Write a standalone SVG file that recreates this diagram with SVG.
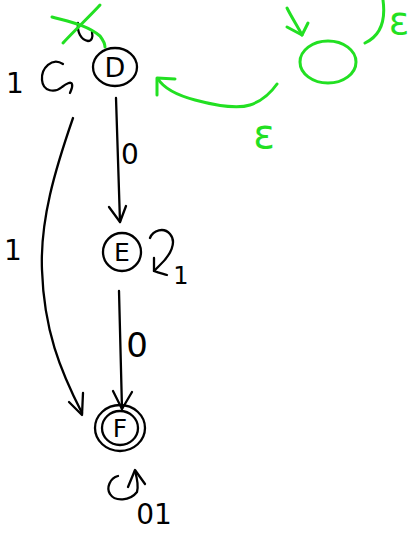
<svg xmlns="http://www.w3.org/2000/svg" width="413" height="533" viewBox="0 0 413 533">
<style>
.k{fill:none;stroke:#000;stroke-width:2.3;stroke-linecap:round;stroke-linejoin:round}
.g{fill:none;stroke:#22e022;stroke-width:3;stroke-linecap:round;stroke-linejoin:round}
.t{font-family:"DejaVu Sans",sans-serif;fill:#000;text-anchor:middle}
.tg{font-family:"DejaVu Sans",sans-serif;fill:#22e022;text-anchor:middle}
</style>
<rect width="413" height="533" fill="#fff"/>
<g id="connectors">
  <path class="k" d="M116,98 L120,222"/>
  <path class="k" d="M109,207 L120,222 L126,206"/>
  <path class="k" d="M119,291 L122,409"/>
  <path class="k" d="M113,391 L122,409 L132,392"/>
  <path class="k" d="M73,118 C55,170 40,220 42,270 C44,330 60,370 82,413"/>
  <path class="k" d="M69,402 L82,415 L83,393"/>
  <path class="k" d="M63,64 C52,57 41,68 42,80 C43,92 55,93 62,87 C66,84 71,81 72,84 C73,87 71,90 70,93"/>
  <path class="k" d="M150,238 C153,230 164,227 170,234 C177,242 171,255 159,266 L154,271 C159,273 164,274 167,275"/>
  <path class="k" d="M154,258 L154,271"/>
  <path class="k" d="M118,476 C110,478 106,488 110,494 C115,502 130,501 137,492 C139,485 137,478 135,471"/>
  <path class="k" d="M128,487 L135,470 L145,484"/>
  <path class="k" d="M78,23 C77,32 81,40 88,41 C92,41 93,37 92,32"/>
  <path class="g" d="M52,17 C70,22 87,25 100,36 C103,40 105,44 105,47"/>
  <path class="g" d="M100,5 C88,18 75,30 63,43"/>
  <path class="g" d="M277,84 C270,94 262,101 250,105 C235,110 210,104 195,100 C180,96 165,90 158,79"/>
  <path class="g" d="M157,95 L157,78 L175,79"/>
  <path class="g" d="M287,8 C292,18 298,27 302,35"/>
  <path class="g" d="M287,27 L302,35 L308,23"/>
  <path class="g" d="M383,0 C386,22 380,36 365,43"/>
</g>
<g id="nodeD">
  <ellipse class="k" cx="115" cy="67" rx="22" ry="19"/>
  <text class="t" x="115" y="77" font-size="27">D</text>
</g>
<g id="nodeE">
  <ellipse class="k" cx="122" cy="252" rx="19" ry="19"/>
  <text class="t" x="122" y="261" font-size="25">E</text>
</g>
<g id="nodeF">
  <ellipse class="k" cx="120" cy="428" rx="25" ry="23"/>
  <ellipse class="k" cx="120" cy="428" rx="18" ry="17"/>
  <text class="t" x="120" y="437" font-size="25">F</text>
</g>
<g id="nodeGreen">
  <ellipse class="g" cx="328" cy="62" rx="28" ry="21"/>
</g>
<g id="labels">
  <text class="t" x="15" y="93" font-size="28">1</text>
  <text class="t" x="13" y="260" font-size="28">1</text>
  <text class="t" x="130" y="164" font-size="28">0</text>
  <text class="t" x="137" y="357" font-size="34">0</text>
  <text class="t" x="181" y="284" font-size="24">1</text>
  <text class="t" x="154" y="524" font-size="28">01</text>
  <text class="tg" x="399" y="34" font-size="38">ε</text>
  <text class="tg" x="264" y="148" font-size="40">ε</text>
</g>
</svg>
